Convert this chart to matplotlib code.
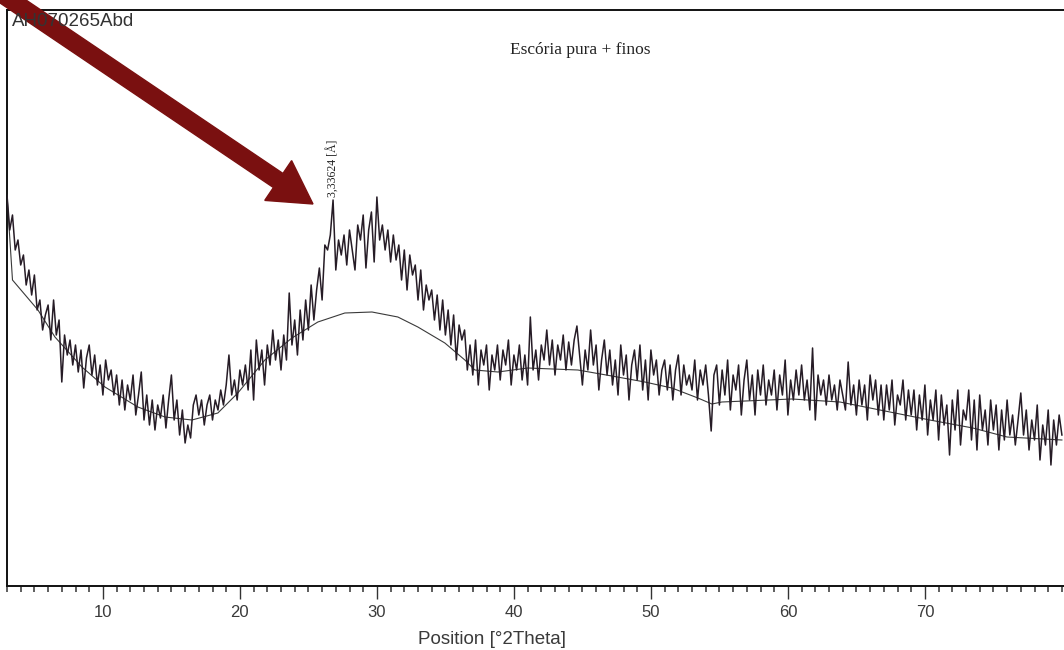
import numpy as np
import matplotlib
matplotlib.use("Agg")
import matplotlib.pyplot as plt
from matplotlib.patches import FancyArrow
from matplotlib.transforms import IdentityTransform
from matplotlib.ticker import MultipleLocator

# ---------------- data ----------------
two_theta_start = 3.0
two_theta_step = 0.2
counts = [
    391, 356, 371, 336, 346, 321, 331, 301, 316, 291,
    311, 276, 286, 256, 271, 281, 246, 286, 251, 266,
    204, 251, 231, 246, 221, 241, 214, 236, 198, 228,
    241, 211, 231, 201, 221, 191, 226, 206, 216, 191,
    211, 181, 206, 176, 201, 186, 211, 171, 191, 214,
    166, 191, 161, 186, 156, 181, 168, 191, 158, 186,
    211, 166, 186, 151, 176, 143, 161, 148, 181, 191,
    171, 186, 161, 181, 191, 166, 186, 176, 196, 181,
    201, 231, 191, 206, 186, 216, 201, 221, 196, 236,
    186, 246, 216, 236, 201, 241, 221, 256, 226, 246,
    216, 251, 226, 293, 241, 266, 231, 276, 246, 286,
    256, 301, 266, 296, 318, 286, 341, 336, 351, 386,
    316, 346, 331, 351, 321, 356, 336, 316, 361, 346,
    371, 318, 356, 374, 324, 389, 346, 361, 336, 356,
    324, 351, 326, 341, 306, 336, 296, 331, 311, 321,
    286, 316, 276, 301, 286, 296, 266, 291, 256, 286,
    251, 276, 241, 271, 226, 261, 246, 256, 216, 241,
    211, 246, 201, 236, 221, 241, 196, 231, 216, 241,
    206, 236, 221, 246, 201, 231, 216, 241, 206, 231,
    201, 269, 216, 236, 206, 241, 226, 256, 221, 246,
    211, 241, 226, 251, 216, 244, 221, 246, 260, 231,
    201, 236, 216, 256, 221, 241, 196, 226, 246, 211,
    236, 201, 226, 191, 241, 211, 231, 186, 221, 236,
    206, 241, 196, 226, 186, 236, 211, 226, 191, 216,
    226, 196, 221, 186, 216, 231, 191, 221, 201, 211,
    196, 226, 186, 216, 201, 221, 191, 155, 211, 221,
    181, 216, 191, 226, 176, 211, 196, 221, 171, 206,
    226, 186, 211, 171, 216, 191, 221, 181, 206, 191,
    216, 176, 211, 191, 226, 171, 206, 186, 216, 191,
    221, 186, 206, 176, 238, 166, 211, 191, 206, 181,
    211, 186, 201, 176, 206, 191, 176, 224, 181, 201,
    171, 206, 181, 201, 166, 211, 186, 206, 171, 201,
    166, 201, 176, 206, 161, 191, 181, 206, 166, 196,
    171, 196, 156, 191, 166, 201, 151, 186, 166, 196,
    146, 191, 161, 181, 131, 186, 156, 196, 141, 176,
    166, 196, 146, 186, 136, 191, 156, 176, 141, 186,
    156, 181, 136, 176, 146, 186, 151, 171, 141, 166,
    193, 151, 176, 136, 166, 146, 181, 126, 161, 141,
    176, 121, 166, 141, 171, 151,
]
background_x = [3.0, 3.4, 5.26, 6.5, 8.47, 10.15, 12.55, 14.53, 16.5, 18.39,
                19.85, 21.82, 23.8, 25.69, 27.66, 29.64, 31.53, 32.99, 34.96,
                36.42, 37.15, 38.83, 41.02, 44.67, 47.15, 49.56, 51.53, 53.43,
                54.45, 55.18, 60.29, 63.8, 67.45, 70.36, 73.5, 75.99, 80.0]
background_y = [391, 306, 276, 249, 219, 199, 179, 169, 166, 173,
                193, 226, 248, 264, 273, 274, 269, 259, 243,
                226, 216, 214, 218, 216, 210, 204, 198, 188,
                182, 184, 187, 184, 174, 166, 158, 149, 146]
peak_position = 26.8
peak_label = "3,33624 [Å]"
sample_id = "AH070265Abd"
title = "Escória pura + finos"
xlabel = "Position [°2Theta]"
major_ticks = [10, 20, 30, 40, 50, 60, 70]

# ---------------- figure ----------------
W, H = 1064, 650
fig = plt.figure(figsize=(W / 100, H / 100), dpi=100)
fig.patch.set_facecolor("white")

ax_left_px, ax_right_px = 7, 1064
ax_top_px, ax_bottom_px = 10, 586
ax = fig.add_axes([ax_left_px / W, (H - ax_bottom_px) / H,
                   (ax_right_px - ax_left_px) / W,
                   (ax_bottom_px - ax_top_px) / H])

x = two_theta_start + two_theta_step * np.arange(len(counts))
ax.plot(x, counts, color="#261c26", lw=1.1, zorder=3)
ax.plot(background_x, background_y, color="#3a3a3a", lw=0.8, zorder=2)

px_per_deg = 13.7
ax.set_xlim(3.0, 3.0 + (ax_right_px - ax_left_px) / px_per_deg)
ax.set_ylim(0, ax_bottom_px - ax_top_px)

for s in ["left", "top", "bottom"]:
    ax.spines[s].set_linewidth(1.4)
    ax.spines[s].set_color("#111111")
ax.spines["right"].set_visible(False)

ax.set_xticks(major_ticks)
ax.xaxis.set_minor_locator(MultipleLocator(1))
ax.tick_params(axis="x", which="major", direction="out", length=9.5,
               width=1.0, color="#333333", labelsize=12,
               labelcolor="#3a3a3a", pad=4)
ax.tick_params(axis="x", which="minor", direction="out", length=4.2,
               width=1.1, color="#333333")
for lab in ax.get_xticklabels():
    lab.set_family("Liberation Sans")
ax.set_yticks([])

# peak label
pk_idx = int(round((peak_position - two_theta_start) / two_theta_step))
ax.text(peak_position, counts[pk_idx] + 3, peak_label, rotation=90,
        ha="center", va="bottom", fontsize=8.5, family="Liberation Serif",
        color="#222222")

# texts
fig.text(12 / W, 1 - 22 / H, sample_id, ha="left", va="center",
         fontsize=13.5, family="Liberation Sans", color="#333333", zorder=12)
fig.text(580 / W, 1 - 50 / H, title, ha="center", va="center",
         fontsize=12.5, family="Liberation Serif", color="#222222")
fig.text(492 / W, 1 - 640 / H, xlabel, ha="center", va="center",
         fontsize=13.5, family="Liberation Sans", color="#3a3a3a")

# arrow (display pixel coordinates)
x0, y0 = -4, H - (-10)
x1, y1 = 313, H - 204
arrow = FancyArrow(x0, y0, x1 - x0, y1 - y0, width=17, head_width=48,
                   head_length=42, length_includes_head=True,
                   transform=IdentityTransform(), color="#7a1010",
                   zorder=10)
fig.patches.append(arrow)
arrow.set_figure(fig)

fig.savefig("out.png", dpi=100)
